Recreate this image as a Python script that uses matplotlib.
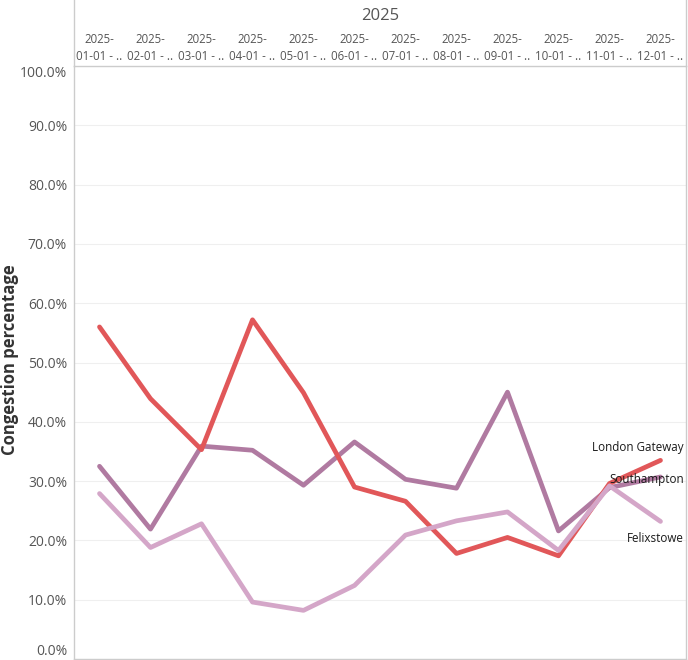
import matplotlib
matplotlib.use("Agg")
import matplotlib.pyplot as plt
from matplotlib.lines import Line2D
from matplotlib.ticker import FuncFormatter, MultipleLocator

plt.rcParams['font.family'] = ['Open Sans', 'DejaVu Sans']

months = ["2025-01-01", "2025-02-01", "2025-03-01", "2025-04-01", "2025-05-01", "2025-06-01",
          "2025-07-01", "2025-08-01", "2025-09-01", "2025-10-01", "2025-11-01", "2025-12-01"]
tick_labels = ["2025-\n" + m[5:] + " - .." for m in months]
year_header = "2025"

london_gateway = [56.0, 43.9, 35.3, 57.2, 44.9, 29.0, 26.6, 17.8, 20.5, 17.4, 29.6, 33.5]
southampton = [32.5, 21.9, 35.9, 35.2, 29.3, 36.6, 30.3, 28.8, 45.0, 21.6, 28.9, 30.7]
felixstowe = [27.9, 18.8, 22.8, 9.6, 8.2, 12.4, 20.9, 23.3, 24.8, 18.3, 29.2, 23.2]

series = [
    ("Southampton", southampton, "#b07aa1"),
    ("London Gateway", london_gateway, "#e15759"),
    ("Felixstowe", felixstowe, "#d4a6c8"),
]
label_dy = {"London Gateway": 9.0, "Southampton": -1.7, "Felixstowe": -12.5}

W, H = 688, 660
fig = plt.figure(figsize=(W / 100, H / 100), dpi=100)
left, right, top, bottom = 74, 686, 66, 659
ax = fig.add_axes([left / W, (H - bottom) / H, (right - left) / W, (bottom - top) / H])

x = list(range(len(months)))
for name, vals, color in series:
    ax.plot(x, vals, color=color, lw=3.4, solid_capstyle='round', solid_joinstyle='round', zorder=3)

for name, vals, color in series:
    ax.annotate(name, xy=(x[-1], vals[-1]), xytext=(17, label_dy[name]),
                textcoords='offset points', ha='right', va='center', fontsize=8.4,
                color='#1a1a1a', zorder=5, annotation_clip=False)

ax.set_xlim(-0.5, len(months) - 0.5)
ax.set_ylim(0, 100)
ax.yaxis.set_major_locator(MultipleLocator(10))
ax.yaxis.set_major_formatter(FuncFormatter(lambda v, p: f"{v:.1f}%"))
ax.grid(axis='y', color='#efefef', lw=0.8, zorder=0)
ax.set_axisbelow(True)

ax.xaxis.tick_top()
ax.set_xticks(x)
ax.set_xticklabels(tick_labels, fontsize=8.3, color='#555555', linespacing=1.45)
ax.tick_params(axis='x', length=0, pad=2)
ax.tick_params(axis='y', length=0, pad=5, labelsize=10, labelcolor='#555555')

fig.canvas.draw()
for lab in ax.get_yticklabels():
    txt = lab.get_text()
    if txt == "100.0%":
        lab.set_va('top')
    elif txt == "0.0%":
        lab.set_va('bottom')

for s in ['left', 'right', 'bottom', 'top']:
    ax.spines[s].set_color('#cccccc')
    ax.spines[s].set_linewidth(1.0)

fig.text(10 / W, 1 - 360 / H, "Congestion percentage", rotation=90, ha='center', va='center',
         fontsize=12, fontweight='bold', color='#333333')

fig.add_artist(Line2D([left / W, left / W], [(H - top) / H, 1], color='#cccccc', lw=1.0))
fig.add_artist(Line2D([right / W, right / W], [(H - top) / H, 1], color='#cccccc', lw=1.0))
fig.text((left + right) / 2 / W, 1 - 16 / H, year_header, ha='center', va='center',
         fontsize=12, color='#555555')

fig.savefig("out.png", dpi=100)
